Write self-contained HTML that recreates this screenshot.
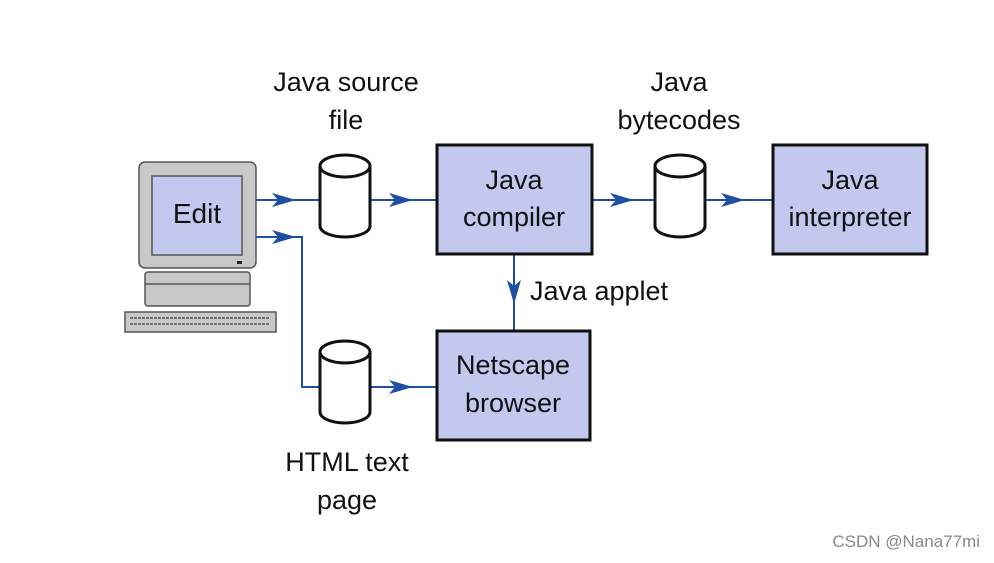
<!DOCTYPE html>
<html><head><meta charset="utf-8"><style>
body{margin:0;background:#fff}
svg text{font-family:"Liberation Sans",sans-serif;fill:#111}
</style></head><body>
<svg width="994" height="558" viewBox="0 0 994 558" xmlns="http://www.w3.org/2000/svg">
<g stroke="#1f4fa0" stroke-width="2" fill="none">
<line x1="256" y1="200" x2="319" y2="200"/>
<polyline points="256,237 302,237 302,387 436,387"/>
<line x1="370" y1="200" x2="436" y2="200"/>
<line x1="592" y1="200" x2="654" y2="200"/>
<line x1="706" y1="200" x2="772" y2="200"/>
<line x1="514" y1="254" x2="514" y2="330"/>
</g>
<g fill="#1f4fa0">
<path d="M272,193 L296,200 L272,207 L278,200Z"/>
<path d="M272,230 L296,237 L272,244 L278,237Z"/>
<path d="M389,193 L413,200 L389,207 L395,200Z"/>
<path d="M389,380 L413,387 L389,394 L395,387Z"/>
<path d="M610,193 L634,200 L610,207 L616,200Z"/>
<path d="M721,193 L745,200 L721,207 L727,200Z"/>
<path d="M507,280 L514,304 L521,280 L514,286Z"/>
</g>
<g fill="#c3c8ef" stroke="#111" stroke-width="3">
<rect x="437" y="145" width="155" height="109"/>
<rect x="773" y="145" width="154" height="109"/>
<rect x="437" y="331" width="153" height="109"/>
</g>
<g fill="#fff" stroke="#111" stroke-width="3">
<path d="M320,166 V226 A25,11 0 0 0 370,226 V166"/><ellipse cx="345" cy="166" rx="25" ry="11"/>
<path d="M655,166 V226 A25,11 0 0 0 705,226 V166"/><ellipse cx="680" cy="166" rx="25" ry="11"/>
<path d="M320,352 V412 A25,11 0 0 0 370,412 V352"/><ellipse cx="345" cy="352" rx="25" ry="11"/>
</g>
<g stroke="#555" stroke-width="1.5">
<rect x="139" y="162" width="117" height="106" rx="6" fill="#c8c8c8"/>
<rect x="152" y="176" width="90" height="79" fill="#c3c8ef"/>
<rect x="145" y="272" width="105" height="34" rx="3" fill="#c8c8c8"/>
<line x1="145" y1="284" x2="250" y2="284"/>
<rect x="125" y="312" width="151" height="20" fill="#c8c8c8"/>
<line x1="130" y1="318" x2="270" y2="318" stroke-dasharray="3,1"/>
<line x1="130" y1="324" x2="270" y2="324" stroke-dasharray="3,1"/>
</g>
<rect x="237" y="261" width="5" height="3" fill="#222"/>
<text x="197" y="223" font-size="28" text-anchor="middle">Edit</text>
<g font-size="27" text-anchor="middle">
<text x="514" y="189">Java</text><text x="514" y="226">compiler</text>
<text x="850" y="189">Java</text><text x="850" y="226">interpreter</text>
<text x="513" y="374">Netscape</text><text x="513" y="412">browser</text>
<text x="346" y="91">Java source</text><text x="346" y="129">file</text>
<text x="679" y="91">Java</text><text x="679" y="129">bytecodes</text>
<text x="347" y="471">HTML text</text><text x="347" y="509">page</text>
<text x="599" y="300">Java applet</text>
</g>
<text x="980" y="547" font-size="17" text-anchor="end" style="fill:#888">CSDN @Nana77mi</text>
</svg>
</body></html>
